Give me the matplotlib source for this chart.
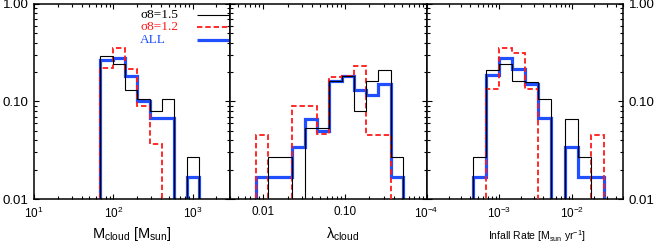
import numpy as np
import matplotlib.pyplot as plt
from matplotlib.ticker import FixedLocator, NullFormatter, LogLocator

plt.rcParams['font.family'] = ['Liberation Sans', 'DejaVu Sans']
plt.rcParams['mathtext.fontset'] = 'custom'
plt.rcParams['mathtext.rm'] = 'Liberation Sans'
plt.rcParams['mathtext.it'] = 'Liberation Sans:italic'

# bin edges
MCLOUD_EDGES = [69, 99, 141, 202, 288, 412, 589, 841, 1202]
LAMBDA_EDGES = [0.00813, 0.01148, 0.01622, 0.02291, 0.03236, 0.04571, 0.06457,
                0.0912, 0.1288, 0.1820, 0.2570, 0.3631, 0.5129]
INFALL_EDGES = [4.27e-4, 6.47e-4, 9.82e-4, 1.49e-3, 2.26e-3, 3.43e-3, 5.20e-3,
                7.89e-3, 1.197e-2, 1.816e-2, 2.754e-2]

# fractions per bin: sigma8=1.5, sigma8=1.2, ALL
MCLOUD_S15 = [0.29, 0.24, 0.132, 0.105, 0.080, 0.105, 0, 0.027]
MCLOUD_S12 = [0.223, 0.357, 0.215, 0.090, 0.037, 0, 0, 0]
MCLOUD_ALL = [0.267, 0.28, 0.184, 0.102, 0.068, 0.068, 0, 0.017]

LAMBDA_S15 = [0, 0.0267, 0.0267, 0, 0.0535, 0.0535, 0.164, 0.184, 0.079, 0.161, 0.211, 0.027]
LAMBDA_S12 = [0.0451, 0, 0, 0.089, 0.089, 0.0469, 0.177, 0.181, 0.229, 0.045, 0.045, 0]
LAMBDA_ALL = [0.017, 0.017, 0.017, 0.0338, 0.0667, 0.0495, 0.162, 0.181, 0.132, 0.117, 0.151, 0.017]

INFALL_S15 = [0.027, 0.211, 0.242, 0.164, 0.16, 0.105, 0, 0.0667, 0.027, 0]
INFALL_S12 = [0, 0.1345, 0.357, 0.313, 0.1345, 0, 0, 0, 0, 0.045]
INFALL_ALL = [0.017, 0.188, 0.278, 0.218, 0.151, 0.068, 0, 0.0344, 0.017, 0.017]

LEGEND_LABELS = ['σ8=1.5', 'σ8=1.2', 'ALL']

BLACK = 'black'
RED = '#ff1a1a'
BLUE = '#1f4fff'
FLOOR = 1e-4

fig = plt.figure(figsize=(6.54, 2.47), dpi=100)
L, R, B, T = 34 / 654, 623 / 654, 1 - 199 / 247, 1 - 4 / 247
W = (R - L) / 3
axes = [fig.add_axes([L + i * W, B, W, T - B]) for i in range(3)]

panels = [
    (MCLOUD_EDGES, MCLOUD_S15, MCLOUD_S12, MCLOUD_ALL, (10, 3000)),
    (LAMBDA_EDGES, LAMBDA_S15, LAMBDA_S12, LAMBDA_ALL, (0.004, 1.0)),
    (INFALL_EDGES, INFALL_S15, INFALL_S12, INFALL_ALL, (1e-4, 0.05)),
]


def stair(ax, edges, vals, **kw):
    v = np.asarray(vals, dtype=float)
    v = np.where(v > 0, v, FLOOR)
    ax.stairs(v, edges, baseline=FLOOR, fill=False, **kw)


for ax, (edges, s15, s12, sall, xl) in zip(axes, panels):
    stair(ax, edges, sall, color=BLUE, lw=2.3, zorder=2)
    stair(ax, edges, s12, color=RED, lw=1.3, linestyle=(0, (3, 1.6)), zorder=3)
    stair(ax, edges, s15, color=BLACK, lw=0.8, zorder=4)
    ax.set_xscale('log')
    ax.set_yscale('log')
    ax.set_xlim(*xl)
    ax.set_ylim(0.01, 1.0)
    ax.tick_params(which='both', direction='in', top=True, right=True,
                   width=0.8, color='black')
    ax.tick_params(which='major', length=3.5)
    ax.tick_params(which='minor', length=2)
    ax.tick_params(axis='x', labelsize=8.5, pad=5)
    ax.tick_params(axis='y', labelsize=9.5, pad=4)
    for s in ax.spines.values():
        s.set_linewidth(1.1)
    ax.yaxis.set_major_locator(FixedLocator([0.01, 0.1, 1.0]))
    ax.yaxis.set_minor_locator(LogLocator(subs=np.arange(2, 10)))
    ax.yaxis.set_minor_formatter(NullFormatter())
    ax.set_yticklabels(['0.01', '0.10', '1.00'])

axes[1].set_yticklabels([])
axes[2].yaxis.tick_right()
axes[2].tick_params(axis='y', which='both', left=True, right=True, direction='in')

axes[1].xaxis.set_major_locator(FixedLocator([0.01, 0.1, 1.0]))
axes[1].set_xticklabels(['0.01', '0.10', ''])
axes[1].xaxis.set_minor_formatter(NullFormatter())
axes[0].xaxis.set_minor_formatter(NullFormatter())
axes[2].xaxis.set_minor_formatter(NullFormatter())
axes[0].set_xticks([10, 100, 1000])
axes[2].set_xticks([1e-4, 1e-3, 1e-2])

axes[0].set_xlabel(r'M$_{\rm cloud}$ [M$_{\rm sun}$]', fontsize=10.5)
axes[0].xaxis.set_label_coords(0.5, -0.135)
axes[1].set_xlabel(r'λ$_{\rm cloud}$', fontsize=10.5)
axes[1].xaxis.set_label_coords(0.57, -0.135)
axes[2].set_xlabel(r'Infall Rate [M$_{\rm sun}$ yr$^{-1}$]', fontsize=7.5)
axes[2].xaxis.set_label_coords(0.56, -0.15)

# legend in the first panel: text then line
ax = axes[0]
for lab, col, lw, ls, y in zip(LEGEND_LABELS, [BLACK, RED, BLUE], [0.8, 1.3, 2.3],
                               ['-', (0, (3, 1.6)), '-'], [0.944, 0.880, 0.815]):
    ax.text(0.541, y, lab, transform=ax.transAxes, color=col, va='center', ha='left',
            fontsize=9.5, family=['Liberation Serif', 'DejaVu Serif'])
    ax.plot([0.83, 1.0], [y, y], transform=ax.transAxes, color=col, lw=lw,
            linestyle=ls, solid_capstyle='butt')

fig.savefig('out.png', dpi=100)
